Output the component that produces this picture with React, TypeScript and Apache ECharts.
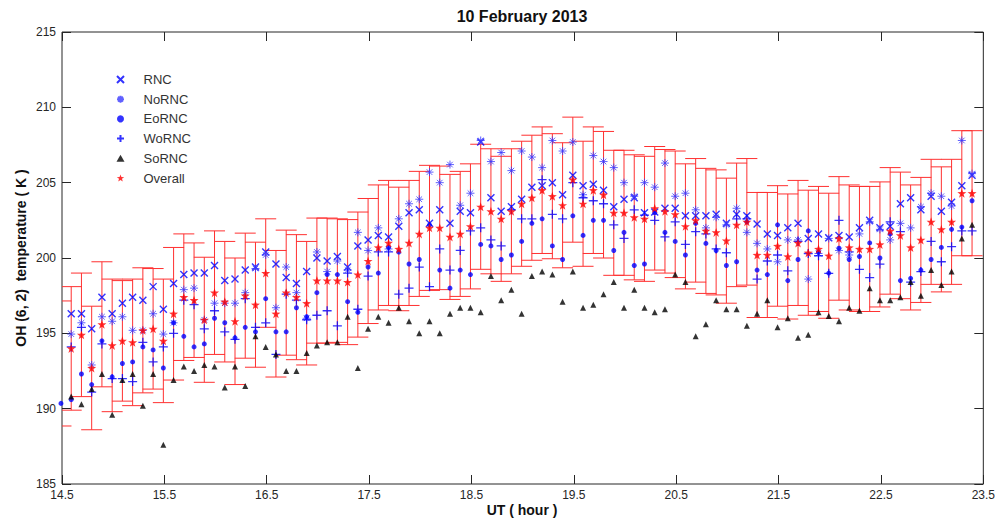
import React, { useEffect, useRef } from 'react';
import * as echarts from 'echarts';

const TIMES = [
  14.49, 14.59, 14.69, 14.79, 14.89, 14.99, 15.09, 15.19, 15.29, 15.39,
  15.49, 15.59, 15.69, 15.79, 15.89, 15.99, 16.09, 16.19, 16.29, 16.39,
  16.49, 16.59, 16.69, 16.79, 16.89, 16.99, 17.09, 17.19, 17.29, 17.39,
  17.49, 17.59, 17.69, 17.79, 17.89, 17.99, 18.09, 18.19, 18.29, 18.39,
  18.49, 18.59, 18.69, 18.79, 18.89, 18.99, 19.09, 19.19, 19.29, 19.39,
  19.49, 19.59, 19.69, 19.79, 19.89, 19.99, 20.09, 20.19, 20.29, 20.39,
  20.49, 20.59, 20.69, 20.79, 20.89, 20.99, 21.09, 21.19, 21.29, 21.39,
  21.49, 21.59, 21.69, 21.79, 21.89, 21.99, 22.09, 22.19, 22.29, 22.39,
  22.49, 22.59, 22.69, 22.79, 22.89, 22.99, 23.09, 23.19, 23.29, 23.39,
];

const RNC = [
  null, 196.3, 196.3, 195.3, 197.4, 196.3, 197.0, 197.4, 197.2, 198.1,
  196.6, 198.3, 198.9, 199.0, 199.0, 199.5, 198.5, 198.6, 199.2, 199.4,
  200.4, 199.6, 198.7, 198.3, 199.1, 200.0, 199.8, 200.1, 199.4, 200.8,
  201.2, 201.5, 201.4, 202.1, 203.0, 203.2, 202.3, 203.2, 202.3, 203.1,
  203.0, 207.7, 204.0, 203.1, 203.4, 203.9, 204.7, 204.8, 205.0, 204.2,
  205.5, 204.8, 204.9, 204.5, 203.4, 203.9, 204.0, 203.0, 203.05, 203.3,
  203.3, 202.8, 202.8, 202.8, 202.9, 202.3, 202.9, 202.8, 202.25, 201.6,
  201.5, 202.0, 202.3, 201.3, 201.6, 201.35, 201.5, 201.4, 202.0, 202.5,
  202.0, 202.1, 203.6, 204.0, 203.2, 204.1, 203.1, 203.7, 204.8, 205.5,
];

const NoRNC = [
  null, 194.95, 195.7, 192.9, 196.1, 195.8, 196.1, 195.2, 195.2, 196.3,
  194.95, 195.7, 197.9, 198.0, 195.9, 197.0, 197.0, 197.0, 197.7, 199.3,
  200.2, 196.7, 199.4, 197.7, 196.0, 200.4, 199.1, 199.8, 199.2, 201.7,
  200.5, 202.0, 200.6, 202.6, 203.6, 203.9, 205.7, 205.0, 206.2, 203.5,
  204.3, 207.8, 206.4, 207.0, 205.8, 207.1, 206.7, 206.0, 207.8, 207.1,
  207.7, 204.2, 206.8, 206.4, 206.0, 205.0, 204.1, 205.0, 204.7, 206.3,
  204.1, 204.3, 203.2, 202.0, 202.7, 202.2, 203.3, 201.7, 200.97, 200.6,
  199.75, 201.2, 201.2, 198.6, 200.3, 201.3, 200.5, 200.2, 201.6, 202.4,
  201.9, 201.2, 202.3, 202.0, 203.4, 204.3, 204.1, 203.45, 207.8, 205.6,
];

const EoRNC = [
  190.35, 190.6, 192.3, 191.6, 194.5, 192.1, 193.0, 193.1, 194.1, 193.9,
  192.7, 195.7, 194.8, 194.1, 194.3, 196.0, 195.7, 194.7, 195.4, 195.1,
  197.3, 195.1, 195.1, 196.7, 196.1, 197.7, 198.9, 198.9, 197.1, 196.4,
  199.4, 199.0, 200.7, 200.4, 199.6, 199.9, 202.2, 199.2, 198.0, 199.2,
  198.9, 200.9, 200.8, 199.9, 200.2, 201.1, 202.3, 202.6, 200.8, 199.9,
  202.8, 201.5, 202.5, 202.5, 200.5, 201.7, 199.5, 199.6, 203.0, 201.7,
  201.1, 200.2, 202.3, 200.97, 200.5, 199.5, 199.75, 202.4, 199.2, 198.9,
  202.2, 198.5, 199.9, 201.8, 200.4, 199.0, 200.65, 199.9, 200.1, 201.0,
  200.0, 201.6, 198.5, 198.65, 199.2, 199.9, 200.7, 201.9, 202.05, 203.8,
];

const WoRNC = [
  null, 194.1, 195.4, 191.1, 194.3, 192.0, 192.0, 191.8, 194.4, 193.1,
  194.1, 195.0, 197.2, 196.9, 195.3, 196.5, 195.1, 194.6, 197.3, 195.4,
  195.7, 193.6, 197.6, 197.2, 195.9, 196.2, 196.5, 195.5, 199.0, 196.6,
  198.8, 200.4, 200.4, 197.6, 198.0, 199.4, 198.1, 200.6, 199.2, 200.5,
  201.8, 202.0, 201.2, 200.8, 203.2, 202.6, 202.6, 205.2, 202.9, 202.6,
  205.0, 204.0, 203.8, 203.6, 202.2, 201.3, 203.2, 202.85, 202.5, 201.4,
  202.4, 200.9, 201.75, 201.6, 200.6, 200.35, 202.6, 202.6, 198.6, 199.8,
  200.2, 199.15, 201.1, 200.3, 200.15, 198.98, 202.5, 200.4, 199.25, 198.7,
  199.6, 202.4, 201.75, 198.4, 199.1, 201.1, 199.75, 200.75, 201.8, 201.8,
];

const SoRNC = [
  null, 190.8, 190.3, 191.3, 192.3, 189.6, 191.9, 192.3, 190.2, 192.3,
  187.6, 191.9, 192.8, 192.5, 192.9, 192.8, 191.4, 192.8, 191.5, 194.8,
  194.1, 193.6, 192.5, 192.5, 193.7, 194.2, 194.4, 194.4, 196.1, 192.7,
  195.3, 196.1, 195.7, 196.7, 195.8, 195.0, 195.8, 195.0, 196.3, 196.7,
  196.7, 196.4, 198.8, 197.2, 197.9, 196.3, 198.8, 199.1, 198.9, 197.1,
  199.1, 196.7, 196.9, 197.6, 198.4, 196.7, 197.9, 196.7, 196.4, 196.6,
  198.9, 198.4, 194.8, 195.6, 197.2, 196.6, 196.6, 195.5, 196.3, 197.2,
  195.4, 196.0, 194.7, 194.9, 196.4, 196.15, 195.8, 196.7, 196.5, 198.0,
  197.2, 197.2, 197.4, 198.4, 197.5, 199.2, 198.2, 199.1, 201.3, 202.2,
];

const OVERALL = [
  193.0, 194.0, 194.9, 192.7, 195.6, 194.2, 194.5, 194.4, 195.2, 195.3,
  194.5, 196.3, 197.4, 197.2, 195.9, 197.7, 197.1, 195.8, 197.5, 196.9,
  199.0, 196.3, 197.7, 197.4, 197.0, 198.5, 198.5, 198.5, 198.4, 198.9,
  199.8, 200.7, 201.0, 200.6, 201.0, 201.6, 202.0, 202.0, 201.4, 201.6,
  202.1, 203.4, 203.1, 202.6, 203.1, 203.6, 204.0, 204.5, 204.1, 203.5,
  205.2, 203.6, 204.5, 204.2, 203.0, 203.0, 202.7, 202.6, 203.3, 203.1,
  202.9, 202.1, 202.5, 201.8, 201.7, 201.15, 202.2, 202.4, 200.2, 200.2,
  200.8, 200.1, 201.0, 200.35, 200.6, 200.15, 201.3, 200.7, 200.6, 200.6,
  200.9, 201.8, 201.5, 200.7, 201.2, 202.4, 201.9, 202.4, 204.3, 204.3,
];

const ERR = [
  4.15, 4.1, 4.1, 4.1, 4.15, 4.4, 4.0, 4.2, 4.15, 4.0,
  4.1, 4.4, 4.2, 3.8, 4.15, 4.1, 4.0, 4.2, 4.15, 4.15,
  3.6, 4.2, 4.15, 4.15, 4.1, 4.15, 4.15, 4.1, 4.15, 4.15,
  4.15, 4.15, 4.15, 4.1, 4.15, 4.15, 4.15, 4.1, 4.15, 4.15,
  4.15, 4.15, 4.15, 4.15, 4.15, 4.15, 4.15, 4.2, 4.15, 4.15,
  4.15, 4.15, 4.2, 4.2, 4.15, 4.15, 4.15, 4.15, 4.1, 4.1,
  4.2, 4.15, 4.1, 4.15, 4.15, 4.15, 4.1, 4.2, 4.15, 4.15,
  4.0, 4.15, 4.15, 4.15, 4.15, 4.15, 4.1, 4.15, 4.15, 4.15,
  4.15, 4.2, 4.2, 4.15, 4.15, 4.15, 4.15, 4.15, 4.15, 4.15,
];

const X_TICKS_MIN = 14.5;
const X_TICKS_MAX = 23.5;
const Y_MIN = 185;
const Y_MAX = 215;

const FONT = '"Liberation Sans", Arial, sans-serif';
const AXIS_COLOR = '#262626';
const BLUE = '#0000ff';
const RED = '#ff0000';

const SYM_X = 'path://M0,0L10,10M10,0L0,10';
const SYM_PLUS = 'path://M5,0L5,10M0,5L10,5';
const SYM_AST = 'path://M5,0L5,10M0,5L10,5M1.5,1.5L8.5,8.5M8.5,1.5L1.5,8.5';
const SYM_STAR =
  'path://M50,0L61.76,33.82L97.55,34.55L69.02,56.18L79.39,90.45L50,70L20.61,90.45L30.98,56.18L2.45,34.55L38.24,33.82Z';

function pairs(values: (number | null)[]) {
  const out: number[][] = [];
  values.forEach((v, i) => {
    if (v !== null && v !== undefined) out.push([TIMES[i], v]);
  });
  return out;
}

export default function App() {
  const ref = useRef<HTMLDivElement>(null);

  useEffect(() => {
    if (!ref.current) return;
    const chart = echarts.init(ref.current, null, { renderer: 'svg' });

    const errData = OVERALL.map((v, i) => [TIMES[i], v - ERR[i], v + ERR[i]]);

    const strokeSeries = (
      name: string,
      vals: (number | null)[],
      symbol: string,
      size: number,
      color: string,
      width: number,
    ) => ({
      type: 'scatter',
      name,
      data: pairs(vals),
      symbol,
      symbolSize: size,
      itemStyle: { color: 'transparent', borderColor: color, borderWidth: width },
      z: 2,
      clip: true,
    });

    const option: any = {
      animation: false,
      backgroundColor: '#ffffff',
      grid: {
        left: 62,
        right: 13,
        top: 32,
        bottom: 38,
        show: true,
        borderColor: AXIS_COLOR,
        borderWidth: 1,
        backgroundColor: 'transparent',
      },
      legend: {
        show: true,
        orient: 'vertical',
        left: 116,
        top: 72,
        padding: 0,
        itemWidth: 8,
        itemHeight: 7,
        itemGap: 4.7,
        symbolKeepAspect: true,
        selectedMode: false,
        data: ['RNC', 'NoRNC', 'EoRNC', 'WoRNC', 'SoRNC', 'Overall'],
        textStyle: {
          fontSize: 13,
          color: '#333333',
          fontFamily: FONT,
          lineHeight: 15,
          padding: [0, 0, 0, 14],
        },
      },
      xAxis: [
        {
          type: 'value',
          min: X_TICKS_MIN,
          max: X_TICKS_MAX,
          interval: 1,
          axisLine: { show: false },
          axisTick: { show: true, inside: true, length: 9, lineStyle: { color: AXIS_COLOR } },
          axisLabel: { show: true, margin: 5, fontSize: 12, color: AXIS_COLOR, fontFamily: FONT },
          splitLine: { show: false },
        },
        {
          type: 'value',
          position: 'top',
          min: X_TICKS_MIN,
          max: X_TICKS_MAX,
          interval: 1,
          axisLine: { show: false },
          axisTick: { show: true, inside: true, length: 9, lineStyle: { color: AXIS_COLOR } },
          axisLabel: { show: false },
          splitLine: { show: false },
        },
      ],
      yAxis: [
        {
          type: 'value',
          min: Y_MIN,
          max: Y_MAX,
          interval: 5,
          axisLine: { show: false },
          axisTick: { show: true, inside: true, length: 9, lineStyle: { color: AXIS_COLOR } },
          axisLabel: { show: true, margin: 6, fontSize: 12, color: AXIS_COLOR, fontFamily: FONT },
          splitLine: { show: false },
        },
        {
          type: 'value',
          position: 'right',
          min: Y_MIN,
          max: Y_MAX,
          interval: 5,
          axisLine: { show: false },
          axisTick: { show: true, inside: true, length: 9, lineStyle: { color: AXIS_COLOR } },
          axisLabel: { show: false },
          splitLine: { show: false },
        },
      ],
      graphic: [
        {
          type: 'text',
          x: 522,
          y: 16,
          style: {
            text: '10 February 2013',
            font: 'bold 16px "Liberation Sans", Arial, sans-serif',
            fill: '#111111',
            textAlign: 'center',
            textVerticalAlign: 'middle',
          },
        },
        {
          type: 'text',
          x: 522,
          y: 510,
          style: {
            text: 'UT ( hour )',
            font: 'bold 14px "Liberation Sans", Arial, sans-serif',
            fill: '#111111',
            textAlign: 'center',
            textVerticalAlign: 'middle',
          },
        },
        {
          type: 'text',
          x: 21,
          y: 258,
          rotation: Math.PI / 2,
          style: {
            text: 'OH (6, 2)  temperature ( K )',
            font: 'bold 14px "Liberation Sans", Arial, sans-serif',
            fill: '#111111',
            textAlign: 'center',
            textVerticalAlign: 'middle',
          },
        },
      ],
      series: [
        {
          type: 'custom',
          name: 'errbar',
          data: errData,
          encode: { x: 0, y: [1, 2] },
          z: 1,
          renderItem: (params: any, api: any) => {
            const x = api.value(0);
            const lo = api.value(1);
            const hi = api.value(2);
            const top = api.coord([x, hi]);
            const bot = api.coord([x, lo]);
            const hw = 10.5;
            const cs = params.coordSys;
            const style = { stroke: '#ff3030', lineWidth: 1 };
            return {
              type: 'group',
              clipPath: { type: 'rect', shape: { x: cs.x, y: cs.y, width: cs.width, height: cs.height } },
              children: [
                { type: 'line', shape: { x1: top[0], y1: top[1], x2: bot[0], y2: bot[1] }, style },
                { type: 'line', shape: { x1: top[0] - hw, y1: top[1], x2: top[0] + hw, y2: top[1] }, style },
                { type: 'line', shape: { x1: bot[0] - hw, y1: bot[1], x2: bot[0] + hw, y2: bot[1] }, style },
              ],
            };
          },
        },
        strokeSeries('RNC', RNC, SYM_X, 7, BLUE, 1.4),
        strokeSeries('NoRNC', NoRNC, SYM_AST, 8, '#3a3aff', 1),
        {
          type: 'scatter',
          name: 'EoRNC',
          data: pairs(EoRNC),
          symbol: 'circle',
          symbolSize: 5,
          itemStyle: { color: BLUE },
          z: 2,
          clip: false,
        },
        strokeSeries('WoRNC', WoRNC, SYM_PLUS, 9, BLUE, 1.3),
        {
          type: 'scatter',
          name: 'SoRNC',
          data: pairs(SoRNC),
          symbol: 'triangle',
          symbolSize: 6,
          itemStyle: { color: '#000000' },
          z: 2,
          clip: true,
        },
        {
          type: 'scatter',
          name: 'Overall',
          data: pairs(OVERALL),
          symbol: SYM_STAR,
          symbolSize: 9,
          itemStyle: { color: RED },
          z: 3,
          clip: true,
        },
      ],
    };

    chart.setOption(option);
    return () => {
      chart.dispose();
    };
  }, []);

  return (
    <div
      ref={ref}
      style={{ position: 'fixed', left: 0, top: 0, width: 998, height: 522, background: '#ffffff' }}
    />
  );
}
